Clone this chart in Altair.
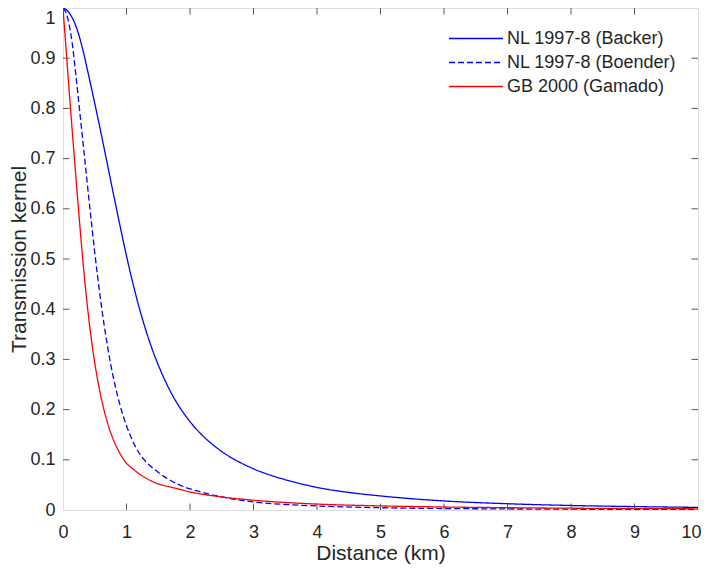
import altair as alt
import pandas as pd

series_names = ["NL 1997-8 (Backer)", "NL 1997-8 (Boender)", "GB 2000 (Gamado)"]
series_colors = ["#0000ff", "#0000ff", "#ff0000"]
series_dash = [[1, 0], [6, 3], [1, 0]]

backer_x = [0, 0.1, 0.2, 0.3, 0.4, 0.5, 0.6, 0.7, 0.8, 0.9, 1.0, 1.1, 1.2, 1.3, 1.4, 1.5, 1.6, 1.7, 1.8, 1.9, 2.0,
            2.2, 2.4, 2.6, 2.8, 3.0, 3.3, 3.6, 4.0, 4.5, 5, 6, 7, 8, 9, 10]
backer_y = [1.0, 0.99, 0.965, 0.923, 0.868, 0.81, 0.75, 0.688, 0.626, 0.565, 0.506, 0.452, 0.403, 0.36, 0.322,
            0.289, 0.26, 0.234, 0.212, 0.193, 0.176, 0.148, 0.126, 0.108, 0.094, 0.082, 0.068, 0.057, 0.045,
            0.035, 0.028, 0.018, 0.0125, 0.009, 0.0068, 0.0052]

boender_x = [0, 0.05, 0.1, 0.15, 0.2, 0.25, 0.3, 0.35, 0.4, 0.45, 0.5, 0.55, 0.6, 0.65, 0.7, 0.75, 0.8, 0.9, 1.0,
             1.1, 1.2, 1.3, 1.4, 1.5, 1.6, 1.8, 2.0, 2.2, 2.5, 3.0, 3.5, 4.0, 5, 6, 7, 8, 9, 10]
boender_y = [1.0, 0.99, 0.965, 0.925, 0.87, 0.81, 0.75, 0.69, 0.629, 0.57, 0.513, 0.46, 0.411, 0.367, 0.327,
             0.291, 0.26, 0.208, 0.168, 0.137, 0.113, 0.097, 0.085, 0.075, 0.066, 0.052, 0.042, 0.035, 0.026,
             0.016, 0.011, 0.008, 0.0045, 0.003, 0.0021, 0.0016, 0.0012, 0.001]

gamado_x = [0, 0.05, 0.1, 0.15, 0.2, 0.25, 0.3, 0.35, 0.4, 0.45, 0.5, 0.55, 0.6, 0.65, 0.7, 0.8, 0.9, 1.0, 1.1,
            1.2, 1.3, 1.5, 1.75, 2.0, 2.5, 3.0, 3.5, 4.0, 5, 6, 7, 8, 9, 10]
gamado_y = [1.0, 0.915, 0.83, 0.748, 0.668, 0.59, 0.515, 0.447, 0.388, 0.337, 0.293, 0.256, 0.224, 0.197, 0.174,
            0.138, 0.112, 0.093, 0.082, 0.072, 0.064, 0.052, 0.044, 0.036, 0.026, 0.0195, 0.015, 0.0118, 0.0082,
            0.006, 0.0046, 0.0036, 0.0029, 0.0024]

x_ticks = [0, 1, 2, 3, 4, 5, 6, 7, 8, 9, 10]
y_ticks = [0, 0.1, 0.2, 0.3, 0.4, 0.5, 0.6, 0.7, 0.8, 0.9, 1]

rows = []
for name, xs, ys in zip(series_names, [backer_x, boender_x, gamado_x], [backer_y, boender_y, gamado_y]):
    for xv, yv in zip(xs, ys):
        rows.append({"series": name, "x": xv, "y": yv})
df = pd.DataFrame(rows)

tx = pd.DataFrame({"x": x_ticks[1:-1]})
ty = pd.DataFrame({"y": y_ticks[1:-1]})

W, H = 635, 502
TL = 6.5
AX = "#5a5a5a"
TXT = "#262626"
FONT = "Liberation Sans"

xscale = alt.Scale(domain=[0, 10], nice=False)
yscale = alt.Scale(domain=[0, 1], nice=False)

xaxis = alt.Axis(values=x_ticks, format="d", title="Distance (km)",
                 domain=False, ticks=False, grid=False, labelPadding=13, labelFlush=False,
                 labelOffset={"condition": {"test": "datum.value === 10", "value": -7}, "value": 0},
                 labelFontSize=18, labelColor=TXT, labelFont=FONT,
                 titleFontSize=21, titleFont=FONT, titleColor=TXT,
                 titleFontWeight="normal", titlePadding=1)
yaxis = alt.Axis(values=y_ticks, format="~g", title="Transmission kernel",
                 domain=False, ticks=False, grid=False, labelPadding=8, labelFlush=False,
                 labelOffset={"condition": {"test": "datum.value === 1", "value": 10}, "value": 0},
                 labelFontSize=18, labelColor=TXT, labelFont=FONT,
                 titleFontSize=21, titleFont=FONT, titleColor=TXT,
                 titleFontWeight="normal", titlePadding=0)

legend_kw = dict(title=None, orient="none", legendX=398.5, legendY=16,
                 symbolType="M-2,0H2", symbolSize=729, symbolStrokeWidth=1.3,
                 labelFontSize=18, labelFont=FONT, labelColor=TXT, labelLimit=400,
                 labelOffset=16.5, rowPadding=0, padding=0)

lines = alt.Chart(df).mark_line(strokeWidth=1.3, interpolate="monotone", clip=True).encode(
    x=alt.X("x:Q", scale=xscale, axis=xaxis),
    y=alt.Y("y:Q", scale=yscale, axis=yaxis),
    color=alt.Color("series:N", sort=series_names,
                    scale=alt.Scale(domain=series_names, range=series_colors),
                    legend=alt.Legend(**legend_kw)),
    strokeDash=alt.StrokeDash("series:N", sort=series_names,
                              scale=alt.Scale(domain=series_names, range=series_dash),
                              legend=alt.Legend(**legend_kw)),
)

bottom_ticks = alt.Chart(tx).mark_rule(color=AX, strokeWidth=1).encode(
    x=alt.X("x:Q", scale=xscale, axis=xaxis), y=alt.value(H), y2=alt.value(H - TL))
top_ticks = alt.Chart(tx).mark_rule(color=AX, strokeWidth=1).encode(
    x=alt.X("x:Q", scale=xscale, axis=xaxis), y=alt.value(0), y2=alt.value(TL))
left_ticks = alt.Chart(ty).mark_rule(color=AX, strokeWidth=1).encode(
    y=alt.Y("y:Q", scale=yscale, axis=yaxis), x=alt.value(0), x2=alt.value(TL))
right_ticks = alt.Chart(ty).mark_rule(color=AX, strokeWidth=1).encode(
    y=alt.Y("y:Q", scale=yscale, axis=yaxis), x=alt.value(W), x2=alt.value(W - TL))

chart = alt.layer(lines, bottom_ticks, top_ticks, left_ticks, right_ticks).properties(
    width=W, height=H,
    padding={"left": 55, "top": 0, "right": 3, "bottom": 54},
    autosize=alt.AutoSizeParams(type="none"),
).configure_view(stroke=AX, strokeWidth=1.2).configure(background="white")

chart.save("out.html", embed_options={"renderer": "svg", "actions": False})
